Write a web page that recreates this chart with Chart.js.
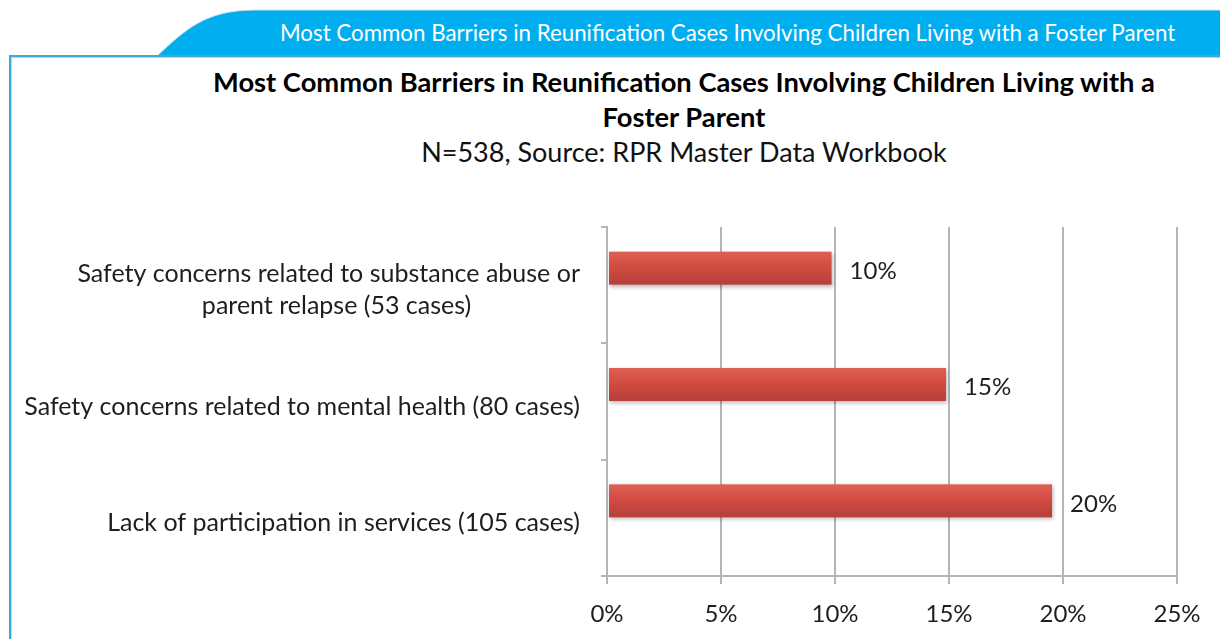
<!DOCTYPE html>
<html>
<head>
<meta charset="utf-8">
<script src="https://cdn.jsdelivr.net/npm/chart.js@4.4.1/dist/chart.umd.min.js"></script>
<style>
  html, body { margin:0; padding:0; background:#fff; overflow:hidden; }
  body { width:1220px; height:639px; position:relative; font-family:Lato, sans-serif; }
  #tab { position:absolute; left:0; top:0; }
  #tabText { position:absolute; left:280px; top:15px; color:#fff; font-family:Lato, sans-serif; font-size:22.3px; white-space:nowrap; line-height:36px; height:36px; }
  #frame { position:absolute; left:9px; top:55px; width:1240px; height:620px; border-top:2px solid #3DA9D8; border-left:2px solid #3DA9D8; box-shadow: inset 1px 1px 0 #cfcfcf; }
  #title { position:absolute; left:184px; width:1000px; top:64px; text-align:center; color:#000; font-family:Lato, sans-serif; font-weight:bold; font-size:27.3px; line-height:35px; white-space:nowrap; }
  #subtitle { position:absolute; left:184px; width:1000px; top:133px; text-align:center; color:#111; font-family:Lato, sans-serif; font-size:27px; line-height:38px; white-space:nowrap; }
  #chart { position:absolute; left:0; top:0; }
</style>
</head>
<body>
<svg id="tab" width="1220" height="60">
  <path d="M157,56 C185,30 205,10 255,10 L1220,10 L1220,56 Z" fill="#00AEEF"/>
  <path d="M157,56 C185,30 205,10 255,10 L1220,10" fill="none" stroke="#cfe3ec" stroke-width="1"/>
</svg>
<div id="frame"></div>
<div id="tabText">Most Common Barriers in Reunification Cases Involving Children Living with a Foster Parent</div>
<div id="title">Most Common Barriers in Reunification Cases Involving Children Living with a<br>Foster Parent</div>
<div id="subtitle">N=538, Source: RPR Master Data Workbook</div>
<canvas id="chart" width="1220" height="639"></canvas>
<script>
// ---- data ----
const categories = [
  ["Safety concerns related to substance abuse or", "parent relapse (53 cases)                 "],
  "Safety concerns related to mental health (80 cases)",
  "Lack of participation in services (105 cases)"
];
const shareOfCases = [9.85, 14.87, 19.52];     // percent of N=538
const shareLabels = ["10%", "15%", "20%"];
const emptySeries = [null, null, null];        // second (empty) Excel series that offsets the bars
const xTickValues = [0, 5, 10, 15, 20, 25];

const AXIS_GREY = '#B5B5B5';
const TEXT = '#1e1e1e';
const FONT = 'Lato, sans-serif';

const barStyle = {
  id: 'barStyle',
  beforeDatasetDraw(chart, args) {
    if (args.index !== 0) return;
    const ctx = chart.ctx;
    const meta = chart.getDatasetMeta(0);
    const area = chart.chartArea;
    ctx.save();
    ctx.beginPath();
    ctx.rect(area.left, area.top - 5, area.width + 10, area.height + 10);
    ctx.clip();
    meta.data.forEach(el => {
      const top = el.y - el.height / 2, bot = el.y + el.height / 2;
      const g = ctx.createLinearGradient(0, top, 0, bot);
      g.addColorStop(0, '#DE6055');
      g.addColorStop(0.45, '#D24C42');
      g.addColorStop(1, '#B4403A');
      ctx.save();
      ctx.shadowColor = 'rgba(0,0,0,0.28)';
      ctx.shadowBlur = 4;
      ctx.shadowOffsetX = 1;
      ctx.shadowOffsetY = 2;
      ctx.fillStyle = g;
      const x0 = Math.min(el.base, el.x), x1 = Math.max(el.base, el.x);
      ctx.fillRect(x0 + 1, top, x1 - x0 - 1, bot - top);
      ctx.restore();
    });
    ctx.restore();
    return false;
  },
  afterDatasetsDraw(chart) {
    const ctx = chart.ctx;
    const meta = chart.getDatasetMeta(0);
    ctx.save();
    ctx.font = '24px ' + FONT;
    ctx.fillStyle = TEXT;
    ctx.textAlign = 'left';
    ctx.textBaseline = 'middle';
    meta.data.forEach((el, i) => {
      ctx.fillText(shareLabels[i], el.x + 18, el.y + 3);
    });
    ctx.restore();
  }
};

new Chart(document.getElementById('chart'), {
  type: 'bar',
  data: {
    labels: categories,
    datasets: [
      { label: 'Share of cases', data: shareOfCases, backgroundColor: '#D04A40', borderWidth: 0,
        categoryPercentage: 0.585, barPercentage: 0.97 },
      { label: '', data: emptySeries, backgroundColor: 'rgba(0,0,0,0)',
        categoryPercentage: 0.585, barPercentage: 0.97 }
    ]
  },
  options: {
    indexAxis: 'y',
    responsive: false,
    devicePixelRatio: 1,
    animation: false,
    layout: { padding: { top: 227, right: 43, left: 0, bottom: 0 } },
    plugins: { legend: { display: false }, tooltip: { enabled: false }, title: { display: false } },
    scales: {
      x: {
        type: 'linear', min: 0, max: 25,
        afterBuildTicks(scale) { scale.ticks = xTickValues.map(v => ({ value: v })); },
        afterFit(scale) { scale.height = 63; },
        ticks: { callback: v => v + '%', color: TEXT, font: { family: FONT, size: 24 }, padding: 16, maxRotation: 0 },
        grid: { color: AXIS_GREY, lineWidth: 2, tickLength: 8, drawTicks: true },
        border: { display: true, color: AXIS_GREY, width: 2 }
      },
      y: {
        type: 'category', offset: true,
        afterFit(scale) { scale.width = 607; },
        ticks: { color: TEXT, font: { family: FONT, size: 25, lineHeight: 1.28 }, padding: 21, autoSkip: false, labelOffset: 5 },
        grid: { offset: true, drawOnChartArea: false, drawTicks: true, tickLength: 6, color: AXIS_GREY, lineWidth: 2 },
        border: { display: true, color: AXIS_GREY, width: 2 }
      }
    }
  },
  plugins: [barStyle]
});
</script>
</body>
</html>
